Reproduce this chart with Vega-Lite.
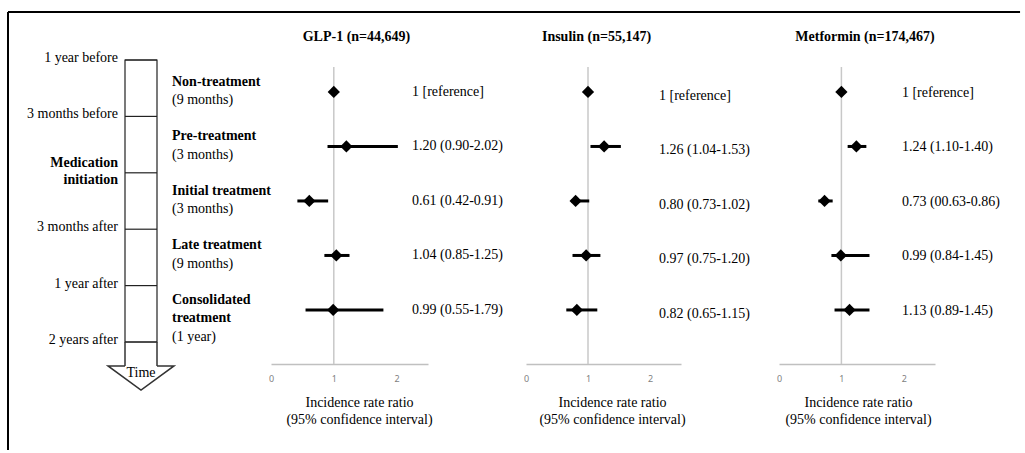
{
  "$schema": "https://vega.github.io/schema/vega-lite/v6.json",
  "padding": {"left": 7, "top": 11, "right": 0, "bottom": 0},
  "background": "white",
  "spacing": 98,
  "bounds": "flush",
  "config": {
    "view": {"stroke": null},
    "font": "Liberation Serif",
    "text": {"font": "Liberation Serif", "fontSize": 14, "color": "black"},
    "axisX": {
      "domainColor": "#c0c0c0", "domainWidth": 1.5, "ticks": false, "grid": false,
      "labelFont": "Noto Sans", "labelFontSize": 9, "labelColor": "#7f7f7f", "labelPadding": 10, "labelFlush": false,
      "titleFont": "Liberation Serif", "titleFontSize": 14, "titleFontWeight": "normal", "titleColor": "black",
      "titleLineHeight": 17, "titleBaseline": "top"
    }
  },
  "datasets": {
    "forest": [
      {"drug": "GLP-1", "period": "Non-treatment", "irr": 1, "lo": null, "hi": null, "label": "1 [reference]"},
      {"drug": "GLP-1", "period": "Pre-treatment", "irr": 1.20, "lo": 0.90, "hi": 2.02, "label": "1.20 (0.90-2.02)"},
      {"drug": "GLP-1", "period": "Initial treatment", "irr": 0.61, "lo": 0.42, "hi": 0.91, "label": "0.61 (0.42-0.91)"},
      {"drug": "GLP-1", "period": "Late treatment", "irr": 1.04, "lo": 0.85, "hi": 1.25, "label": "1.04 (0.85-1.25)"},
      {"drug": "GLP-1", "period": "Consolidated treatment", "irr": 0.99, "lo": 0.55, "hi": 1.79, "label": "0.99 (0.55-1.79)"},
      {"drug": "Insulin", "period": "Non-treatment", "irr": 1, "lo": null, "hi": null, "label": "1 [reference]"},
      {"drug": "Insulin", "period": "Pre-treatment", "irr": 1.26, "lo": 1.04, "hi": 1.53, "label": "1.26 (1.04-1.53)"},
      {"drug": "Insulin", "period": "Initial treatment", "irr": 0.80, "lo": 0.73, "hi": 1.02, "label": "0.80 (0.73-1.02)"},
      {"drug": "Insulin", "period": "Late treatment", "irr": 0.97, "lo": 0.75, "hi": 1.20, "label": "0.97 (0.75-1.20)"},
      {"drug": "Insulin", "period": "Consolidated treatment", "irr": 0.82, "lo": 0.65, "hi": 1.15, "label": "0.82 (0.65-1.15)"},
      {"drug": "Metformin", "period": "Non-treatment", "irr": 1, "lo": null, "hi": null, "label": "1 [reference]"},
      {"drug": "Metformin", "period": "Pre-treatment", "irr": 1.24, "lo": 1.10, "hi": 1.40, "label": "1.24 (1.10-1.40)"},
      {"drug": "Metformin", "period": "Initial treatment", "irr": 0.73, "lo": 0.63, "hi": 0.86, "label": "0.73 (00.63-0.86)"},
      {"drug": "Metformin", "period": "Late treatment", "irr": 0.99, "lo": 0.84, "hi": 1.45, "label": "0.99 (0.84-1.45)"},
      {"drug": "Metformin", "period": "Consolidated treatment", "irr": 1.13, "lo": 0.89, "hi": 1.45, "label": "1.13 (0.89-1.45)"}
    ],
    "periods": [
      {"period": "Non-treatment", "duration": "(9 months)"},
      {"period": "Pre-treatment", "duration": "(3 months)"},
      {"period": "Initial treatment", "duration": "(3 months)"},
      {"period": "Late treatment", "duration": "(9 months)"},
      {"period": "Consolidated treatment", "duration": "(1 year)"}
    ],
    "marks": [
      {"idx": 0, "label": "1 year before"},
      {"idx": 1, "label": "3 months before"},
      {"idx": 2, "label": "Medication initiation"},
      {"idx": 3, "label": "3 months after"},
      {"idx": 4, "label": "1 year after"},
      {"idx": 5, "label": "2 years after"}
    ]
  },
  "hconcat": [
    {
      "width": 165, "height": 297,
      "layer": [
        {
          "layer": [
            {"data": {"values": [{}]}, "mark": {"type": "rule", "color": "black", "strokeWidth": 2},
             "encoding": {
               "x": {"datum": -3.65625, "type": "quantitative", "scale": {"domain": [-3.65625, 1.5], "nice": false, "zero": false}, "axis": null},
               "x2": {"datum": 27.97},
               "y": {"datum": -0.851, "type": "quantitative", "scale": {"domain": [0.124, 5.39], "reverse": true, "nice": false, "zero": false}, "axis": null}}},
            {"data": {"values": [{}]}, "mark": {"type": "rule", "color": "black", "strokeWidth": 2},
             "encoding": {"x": {"datum": -3.65625, "type": "quantitative"}, "y": {"datum": -0.851, "type": "quantitative"}, "y2": {"datum": 6.915}}},
            {"data": {"values": [{}]}, "mark": {"type": "rect", "fill": "white", "stroke": "#222222", "strokeWidth": 1.2},
             "encoding": {"x": {"datum": 0, "type": "quantitative"}, "x2": {"datum": 1}, "y": {"datum": 0, "type": "quantitative"}, "y2": {"datum": 5}}},
            {"data": {"name": "marks"}, "mark": {"type": "rule", "color": "#222222", "strokeWidth": 1.2},
             "encoding": {"x": {"datum": 0, "type": "quantitative"}, "x2": {"datum": 1}, "y": {"field": "idx", "type": "quantitative"}}},
            {"data": {"values": [{}]}, "mark": {"type": "rule", "color": "#333333", "strokeWidth": 1.5},
             "encoding": {"x": {"datum": 0, "type": "quantitative"}, "y": {"datum": 5, "type": "quantitative"}, "y2": {"datum": 5.425}}},
            {"data": {"values": [{}]}, "mark": {"type": "rule", "color": "#333333", "strokeWidth": 1.5},
             "encoding": {"x": {"datum": 1, "type": "quantitative"}, "y": {"datum": 5, "type": "quantitative"}, "y2": {"datum": 5.425}}},
            {"data": {"values": [{}]}, "mark": {"type": "point", "shape": "M-0.485,-0.364L-1,-0.364L0,0.364L1,-0.364L0.485,-0.364", "size": 4356, "filled": true, "fill": "white", "stroke": "#333333", "strokeWidth": 1.5, "opacity": 1},
             "encoding": {"x": {"datum": 0.5, "type": "quantitative"}, "y": {"datum": 5.638, "type": "quantitative"}}},
            {"data": {"values": [{}]}, "mark": {"type": "text", "text": "Time", "align": "center", "baseline": "middle"},
             "encoding": {"x": {"datum": 0.5, "type": "quantitative"}, "y": {"datum": 5.55, "type": "quantitative"}}},
            {"data": {"name": "marks"}, "transform": [{"filter": "datum.idx !== 2"}],
             "mark": {"type": "text", "align": "right", "baseline": "middle", "dy": -2},
             "encoding": {"x": {"datum": -0.219, "type": "quantitative"}, "y": {"field": "idx", "type": "quantitative"}, "text": {"field": "label"}}},
            {"data": {"name": "marks"}, "transform": [{"filter": "datum.idx === 2"}],
             "mark": {"type": "text", "align": "right", "baseline": "middle", "dy": -10, "fontWeight": "bold", "lineBreak": " ", "lineHeight": 17},
             "encoding": {"x": {"datum": -0.219, "type": "quantitative"}, "y": {"field": "idx", "type": "quantitative"}, "text": {"field": "label"}}}
          ]
        },
        {
          "data": {"name": "periods"},
          "encoding": {
            "x": {"datum": 1.469, "type": "quantitative"},
            "y": {"field": "period", "type": "nominal", "scale": {"type": "point", "domain": ["Non-treatment", "Pre-treatment", "Initial treatment", "Late treatment", "Consolidated treatment"], "padding": 0.725, "align": 0.316}, "axis": null}
          },
          "layer": [
            {"transform": [{"filter": "datum.period !== 'Consolidated treatment'"}],
             "mark": {"type": "text", "align": "left", "baseline": "middle", "dy": -10, "fontWeight": "bold"},
             "encoding": {"text": {"field": "period"}}},
            {"transform": [{"filter": "datum.period === 'Consolidated treatment'"}],
             "mark": {"type": "text", "align": "left", "baseline": "middle", "dy": -10, "fontWeight": "bold", "lineBreak": " ", "lineHeight": 18},
             "encoding": {"text": {"field": "period"}}},
            {"transform": [{"filter": "datum.period !== 'Consolidated treatment'"}],
             "mark": {"type": "text", "align": "left", "baseline": "middle", "dy": 8.5},
             "encoding": {"text": {"field": "duration"}}},
            {"transform": [{"filter": "datum.period === 'Consolidated treatment'"}],
             "mark": {"type": "text", "align": "left", "baseline": "middle", "dy": 27},
             "encoding": {"text": {"field": "duration"}}}
          ]
        }
      ],
      "resolve": {"scale": {"y": "independent"}}
    },
    {
      "width": 157, "height": 297,
      "title": {"text": "GLP-1 (n=44,649)", "font": "Liberation Serif", "fontSize": 14, "fontWeight": "bold", "color": "black", "anchor": "middle", "baseline": "middle", "offset": 15, "dx": 7},
      "layer": [
        {"data": {"values": [{}]}, "mark": {"type": "rule", "color": "#c8c8c8", "strokeWidth": 1.5},
         "encoding": {"x": {"datum": 1, "type": "quantitative", "scale": {"domain": [0, 2.5], "nice": false, "zero": false}, "axis": {"values": [0, 1, 2], "title": ["Incidence rate ratio", "(95% confidence interval)"], "titleX": 88, "titleY": 31}}}},
        {"data": {"name": "forest"}, "transform": [{"filter": "datum.drug === 'GLP-1' && datum.lo != null"}],
         "mark": {"type": "rule", "color": "black", "strokeWidth": 3},
         "encoding": {"x": {"field": "lo", "type": "quantitative", "scale": {"domain": [0, 2.5], "nice": false, "zero": false}, "axis": {"values": [0, 1, 2], "title": ["Incidence rate ratio", "(95% confidence interval)"], "titleX": 88, "titleY": 31}}, "x2": {"field": "hi"},
           "y": {"field": "period", "type": "nominal", "scale": {"type": "point", "domain": ["Non-treatment", "Pre-treatment", "Initial treatment", "Late treatment", "Consolidated treatment"], "padding": 0.725, "align": 0.316}, "axis": null}}},
        {"data": {"name": "forest"}, "transform": [{"filter": "datum.drug === 'GLP-1'"}],
         "mark": {"type": "point", "shape": "diamond", "filled": true, "color": "black", "size": 150, "opacity": 1},
         "encoding": {"x": {"field": "irr", "type": "quantitative", "scale": {"domain": [0, 2.5], "nice": false, "zero": false}, "axis": {"values": [0, 1, 2], "title": ["Incidence rate ratio", "(95% confidence interval)"], "titleX": 88, "titleY": 31}},
           "y": {"field": "period", "type": "nominal", "scale": {"type": "point", "domain": ["Non-treatment", "Pre-treatment", "Initial treatment", "Late treatment", "Consolidated treatment"], "padding": 0.725, "align": 0.316}, "axis": null}}},
        {"data": {"name": "forest"}, "transform": [{"filter": "datum.drug === 'GLP-1'"}],
         "mark": {"type": "text", "align": "left", "baseline": "middle", "dy": 0},
         "encoding": {"x": {"datum": 2.245, "type": "quantitative", "scale": {"domain": [0, 2.5], "nice": false, "zero": false}, "axis": {"values": [0, 1, 2], "title": ["Incidence rate ratio", "(95% confidence interval)"], "titleX": 88, "titleY": 31}},
           "y": {"field": "period", "type": "nominal", "scale": {"type": "point", "domain": ["Non-treatment", "Pre-treatment", "Initial treatment", "Late treatment", "Consolidated treatment"], "padding": 0.725, "align": 0.316}, "axis": null},
           "text": {"field": "label"}}}
      ]
    },
    {
      "width": 155, "height": 297,
      "title": {"text": "Insulin (n=55,147)", "font": "Liberation Serif", "fontSize": 14, "fontWeight": "bold", "color": "black", "anchor": "middle", "baseline": "middle", "offset": 15, "dx": -7},
      "layer": [
        {"data": {"values": [{}]}, "mark": {"type": "rule", "color": "#c8c8c8", "strokeWidth": 1.5},
         "encoding": {"x": {"datum": 1, "type": "quantitative", "scale": {"domain": [0, 2.5], "nice": false, "zero": false}, "axis": {"values": [0, 1, 2], "title": ["Incidence rate ratio", "(95% confidence interval)"], "titleX": 86, "titleY": 31}}}},
        {"data": {"name": "forest"}, "transform": [{"filter": "datum.drug === 'Insulin' && datum.lo != null"}],
         "mark": {"type": "rule", "color": "black", "strokeWidth": 3},
         "encoding": {"x": {"field": "lo", "type": "quantitative", "scale": {"domain": [0, 2.5], "nice": false, "zero": false}, "axis": {"values": [0, 1, 2], "title": ["Incidence rate ratio", "(95% confidence interval)"], "titleX": 86, "titleY": 31}}, "x2": {"field": "hi"},
           "y": {"field": "period", "type": "nominal", "scale": {"type": "point", "domain": ["Non-treatment", "Pre-treatment", "Initial treatment", "Late treatment", "Consolidated treatment"], "padding": 0.725, "align": 0.316}, "axis": null}}},
        {"data": {"name": "forest"}, "transform": [{"filter": "datum.drug === 'Insulin'"}],
         "mark": {"type": "point", "shape": "diamond", "filled": true, "color": "black", "size": 150, "opacity": 1},
         "encoding": {"x": {"field": "irr", "type": "quantitative", "scale": {"domain": [0, 2.5], "nice": false, "zero": false}, "axis": {"values": [0, 1, 2], "title": ["Incidence rate ratio", "(95% confidence interval)"], "titleX": 86, "titleY": 31}},
           "y": {"field": "period", "type": "nominal", "scale": {"type": "point", "domain": ["Non-treatment", "Pre-treatment", "Initial treatment", "Late treatment", "Consolidated treatment"], "padding": 0.725, "align": 0.316}, "axis": null}}},
        {"data": {"name": "forest"}, "transform": [{"filter": "datum.drug === 'Insulin'"}],
         "mark": {"type": "text", "align": "left", "baseline": "middle", "dy": 4},
         "encoding": {"x": {"datum": 2.145, "type": "quantitative", "scale": {"domain": [0, 2.5], "nice": false, "zero": false}, "axis": {"values": [0, 1, 2], "title": ["Incidence rate ratio", "(95% confidence interval)"], "titleX": 86, "titleY": 31}},
           "y": {"field": "period", "type": "nominal", "scale": {"type": "point", "domain": ["Non-treatment", "Pre-treatment", "Initial treatment", "Late treatment", "Consolidated treatment"], "padding": 0.725, "align": 0.316}, "axis": null},
           "text": {"field": "label"}}}
      ]
    },
    {
      "width": 156, "height": 297,
      "title": {"text": "Metformin (n=174,467)", "font": "Liberation Serif", "fontSize": 14, "fontWeight": "bold", "color": "black", "anchor": "middle", "baseline": "middle", "offset": 15, "dx": 8},
      "layer": [
        {"data": {"values": [{}]}, "mark": {"type": "rule", "color": "#c8c8c8", "strokeWidth": 1.5},
         "encoding": {"x": {"datum": 1, "type": "quantitative", "scale": {"domain": [0, 2.5], "nice": false, "zero": false}, "axis": {"values": [0, 1, 2], "title": ["Incidence rate ratio", "(95% confidence interval)"], "titleX": 79, "titleY": 31}}}},
        {"data": {"name": "forest"}, "transform": [{"filter": "datum.drug === 'Metformin' && datum.lo != null"}],
         "mark": {"type": "rule", "color": "black", "strokeWidth": 3},
         "encoding": {"x": {"field": "lo", "type": "quantitative", "scale": {"domain": [0, 2.5], "nice": false, "zero": false}, "axis": {"values": [0, 1, 2], "title": ["Incidence rate ratio", "(95% confidence interval)"], "titleX": 79, "titleY": 31}}, "x2": {"field": "hi"},
           "y": {"field": "period", "type": "nominal", "scale": {"type": "point", "domain": ["Non-treatment", "Pre-treatment", "Initial treatment", "Late treatment", "Consolidated treatment"], "padding": 0.725, "align": 0.316}, "axis": null}}},
        {"data": {"name": "forest"}, "transform": [{"filter": "datum.drug === 'Metformin'"}],
         "mark": {"type": "point", "shape": "diamond", "filled": true, "color": "black", "size": 150, "opacity": 1},
         "encoding": {"x": {"field": "irr", "type": "quantitative", "scale": {"domain": [0, 2.5], "nice": false, "zero": false}, "axis": {"values": [0, 1, 2], "title": ["Incidence rate ratio", "(95% confidence interval)"], "titleX": 79, "titleY": 31}},
           "y": {"field": "period", "type": "nominal", "scale": {"type": "point", "domain": ["Non-treatment", "Pre-treatment", "Initial treatment", "Late treatment", "Consolidated treatment"], "padding": 0.725, "align": 0.316}, "axis": null}}},
        {"data": {"name": "forest"}, "transform": [{"filter": "datum.drug === 'Metformin'"}],
         "mark": {"type": "text", "align": "left", "baseline": "middle", "dy": 1},
         "encoding": {"x": {"datum": 1.97, "type": "quantitative", "scale": {"domain": [0, 2.5], "nice": false, "zero": false}, "axis": {"values": [0, 1, 2], "title": ["Incidence rate ratio", "(95% confidence interval)"], "titleX": 79, "titleY": 31}},
           "y": {"field": "period", "type": "nominal", "scale": {"type": "point", "domain": ["Non-treatment", "Pre-treatment", "Initial treatment", "Late treatment", "Consolidated treatment"], "padding": 0.725, "align": 0.316}, "axis": null},
           "text": {"field": "label"}}}
      ]
    }
  ]
}
